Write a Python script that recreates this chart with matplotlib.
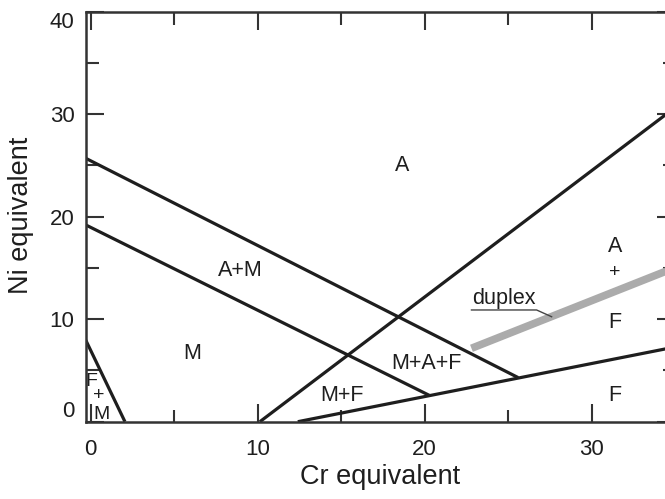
import matplotlib
matplotlib.use("Agg")
import matplotlib.pyplot as plt

plt.rcParams['font.family'] = ['Liberation Sans', 'DejaVu Sans']

# ---- data (Schaeffler-type constitution diagram) ----
# phase boundary lines (Cr equivalent, Ni equivalent)
a_am_x = [-0.3, 25.6]
a_am_y = [25.7, 4.3]
am_m_x = [-0.3, 20.3]
am_m_y = [19.2, 2.55]
m_mf_x = [10.13, 35.0]
m_mf_y = [0.0, 30.66]
af_f_x = [12.4, 35.0]
af_f_y = [0.0, 7.29]
fm_x = [-0.3, 2.05]
fm_y = [7.97, 0.0]
duplex_x = [22.8, 35.0]
duplex_y = [7.16, 15.04]

# region labels
region_labels = ["A", "A+M", "M", "M+F", "M+A+F", "A", "F", "F"]
region_x = [18.62, 8.94, 6.05, 15.03, 20.12, 31.4, 31.4, 31.4]
region_y = [24.95, 14.80, 6.67, 2.6, 5.70, 17.07, 9.66, 2.6]
small_labels = ["F", "+", "M", "+"]
small_x = [0.06, 0.46, 0.66, 31.4]
small_y = [3.9, 2.6, 0.75, 14.54]

x_major = [0, 10, 20, 30]
x_minor = [5, 15, 25, 35]
y_major = [0, 10, 20, 30, 40]
y_minor = [5, 15, 25, 35]

ink = '#1e1e1e'
fig = plt.figure(figsize=(6.65, 4.99), dpi=100)
ax = fig.add_axes([85.7 / 665, 77.3 / 499, 589.5 / 665, 410 / 499])
ax.set_xlim(-0.3, 35)
ax.set_ylim(0, 40)

lw = 2.3
for xs, ys in [(a_am_x, a_am_y), (am_m_x, am_m_y), (m_mf_x, m_mf_y),
               (af_f_x, af_f_y), (fm_x, fm_y)]:
    ax.plot(xs, ys, color=ink, lw=lw, solid_capstyle='butt')

ax.plot(duplex_x, duplex_y, color='#ababab', lw=5.5, solid_capstyle='butt')

# duplex label with underline and leader
ax.text(24.75, 12.06, "duplex", ha='center', va='center', fontsize=15.5, color=ink)
ax.plot([22.8, 26.7, 27.6], [10.9, 10.9, 10.24], color='#444444', lw=1.0)

for t, x, y in zip(region_labels, region_x, region_y):
    ax.text(x, y, t, ha='center', va='center', fontsize=15.5, color=ink)
for t, x, y in zip(small_labels, small_x, small_y):
    ax.text(x, y, t, ha='center', va='center', fontsize=14, color=ink)

ax.set_xticks(x_major)
ax.set_xticks(x_minor, minor=True)
ax.set_yticks(y_major)
ax.set_yticks(y_minor, minor=True)
ax.tick_params(which='both', direction='in', top=True, right=True,
               color='#333333', width=1.5, labelsize=16, labelcolor=ink)
ax.tick_params(which='major', length=13)
ax.tick_params(which='minor', length=9)
ax.tick_params(axis='x', which='major', pad=12.5)
ax.tick_params(axis='y', which='major', pad=8)

for s in ax.spines.values():
    s.set_linewidth(1.8)
    s.set_color('#333333')

ax.set_xlabel("Cr equivalent", fontsize=19.5, color=ink)
ax.set_ylabel("Ni equivalent", fontsize=19.5, color=ink)
ax.xaxis.label.set_va('center')
ax.yaxis.label.set_va('center')
ax.xaxis.set_label_coords(0.499, -0.135)
ax.yaxis.set_label_coords(-0.11, 0.504)

yt = ax.yaxis.get_major_ticks()
yt[0].label1.set_va('bottom')
yt[-1].label1.set_va('top')

fig.savefig("out.png", dpi=100)
